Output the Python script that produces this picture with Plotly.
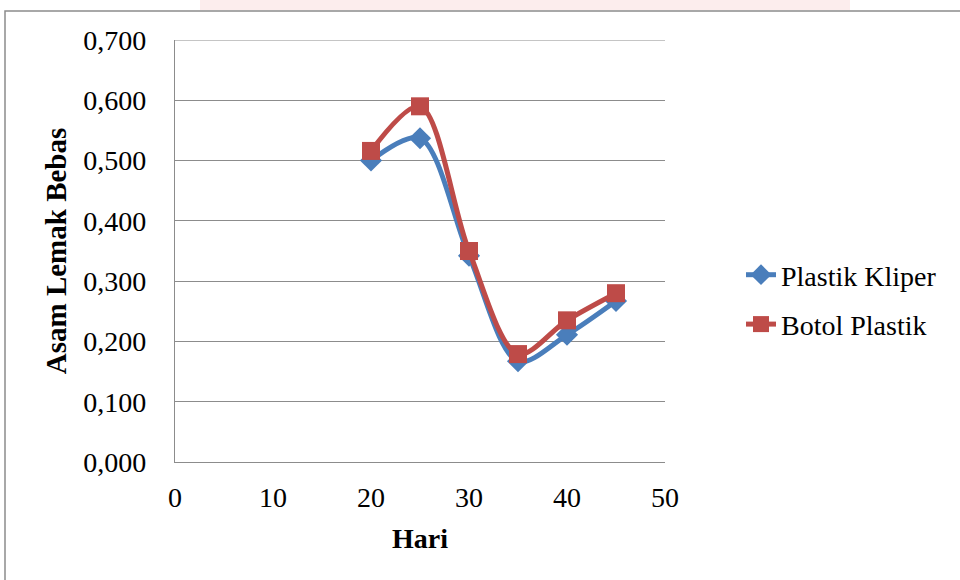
import plotly.graph_objects as go

# Hari pengamatan dan kadar asam lemak bebas per jenis kemasan
hari = [20, 25, 30, 35, 40, 45]
plastik_kliper = [0.500, 0.537, 0.342, 0.167, 0.211, 0.267]
botol_plastik = [0.516, 0.590, 0.350, 0.179, 0.235, 0.280]

x_ticks = [0, 10, 20, 30, 40, 50]
y_ticks = [0.0, 0.1, 0.2, 0.3, 0.4, 0.5, 0.6, 0.7]
y_tick_text = ["0,000", "0,100", "0,200", "0,300", "0,400", "0,500", "0,600", "0,700"]

W, H = 960, 580
L, R, T, B = 175, 295, 40, 118
pw, ph = W - L - R, H - T - B


def px(xp):
    return (xp - L) / pw


def py(yp):
    return (H - B - yp) / ph


font = "Liberation Serif, Times New Roman, serif"
grid = "#8c8c8c"

fig = go.Figure()
fig.add_trace(go.Scatter(
    x=hari, y=plastik_kliper, name="Plastik Kliper", mode="lines+markers",
    line=dict(color="#4a7ebb", width=5, shape="spline", smoothing=0.9),
    marker=dict(symbol="diamond", size=17, color="#4a7ebb"),
    legendgroup="a",
))
fig.add_trace(go.Scatter(
    x=hari, y=botol_plastik, name="Botol Plastik", mode="lines+markers",
    line=dict(color="#be4b48", width=5, shape="spline", smoothing=0.9),
    marker=dict(symbol="square", size=18, color="#be4b48"),
    legendgroup="b",
))

shapes = [
    # outer chart frame
    dict(type="rect", xref="paper", yref="paper",
         x0=px(5), x1=px(965), y0=py(590), y1=py(11),
         line=dict(color=grid, width=1.5), fillcolor="rgba(0,0,0,0)", layer="below"),
    # faint pink band along the top edge
    dict(type="rect", xref="paper", yref="paper",
         x0=px(200), x1=px(850), y0=py(10), y1=py(0),
         line=dict(width=0), fillcolor="rgba(236,130,130,0.14)", layer="below"),
    # top gridline at 0,700
    dict(type="line", xref="paper", yref="y", x0=0, x1=1, y0=0.7, y1=0.7,
         line=dict(color=grid, width=1.2), layer="below"),
]

fig.update_layout(
    width=W, height=H,
    margin=dict(l=L, r=R, t=T, b=B, pad=0),
    paper_bgcolor="white", plot_bgcolor="white",
    font=dict(family=font, size=28, color="black"),
    showlegend=True,
    legend=dict(x=px(741), y=py(250), xanchor="left", yanchor="top",
                font=dict(family=font, size=28), tracegroupgap=10,
                bgcolor="rgba(0,0,0,0)"),
    shapes=shapes,
    xaxis=dict(
        range=[0, 50], tickvals=x_ticks, ticktext=[str(v) for v in x_ticks],
        tickfont=dict(family=font, size=28),
        showgrid=False, zeroline=False, showline=True, linecolor=grid, linewidth=1.2,
        ticks="", ticklen=0, ticklabelstandoff=10,
        title=dict(text="<b>Hari</b>", font=dict(family=font, size=28), standoff=16),
    ),
    yaxis=dict(
        range=[0, 0.7], tickvals=y_ticks, ticktext=y_tick_text,
        tickfont=dict(family=font, size=28),
        showgrid=True, gridcolor=grid, gridwidth=1.2,
        zeroline=False, showline=True, linecolor=grid, linewidth=1.2,
        ticks="", ticklen=0, ticklabelstandoff=22,
        title=dict(text="<b>Asam Lemak Bebas</b>", font=dict(family=font, size=29), standoff=8),
    ),
)

fig.write_html("out.html")
